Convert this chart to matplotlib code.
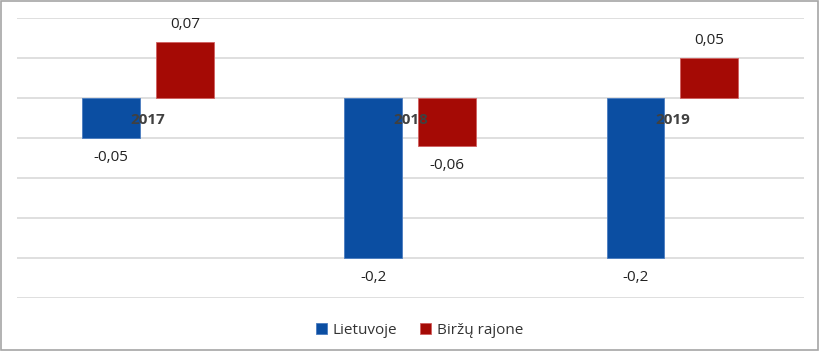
import matplotlib.pyplot as plt
import numpy as np
from matplotlib.patches import Rectangle

years = ['2017', '2018', '2019']
lietuvoje = [-0.05, -0.2, -0.2]
birzu = [0.07, -0.06, 0.05]
lbl_lt = ['-0,05', '-0,2', '-0,2']
lbl_bz = ['0,07', '-0,06', '0,05']

plt.rcParams['font.family'] = ['Open Sans', 'DejaVu Sans']

fig = plt.figure(figsize=(8.2, 3.51), dpi=100)
ax = fig.add_axes([0.0207, 0.151, 0.9593, 0.799])

x = np.arange(len(years))
w = 0.221
off = 0.141
b1 = ax.bar(x - off, lietuvoje, width=w, color='#0B4EA2', edgecolor='#4A7CC0',
            linewidth=0.6, label='Lietuvoje', zorder=3)
b2 = ax.bar(x + off, birzu, width=w, color='#A50A05', edgecolor='#D06060',
            linewidth=0.6, label='Biržų rajone', zorder=3)

for bars, labels in ((b1, lbl_lt), (b2, lbl_bz)):
    for b, t in zip(bars, labels):
        h = b.get_height()
        ax.annotate(t, (b.get_x() + b.get_width() / 2, h),
                    xytext=(0, 7 if h > 0 else -9), textcoords='offset points',
                    ha='center', va='bottom' if h > 0 else 'top',
                    fontsize=11, color='#222222')

# category labels sit just under the zero line, on top of the bars
for xi, yr in zip(x, years):
    ax.annotate(yr, (xi, 0), xytext=(0, -11), textcoords='offset points',
                ha='center', va='top', fontsize=11, fontweight='bold',
                color='#404040', zorder=5)

ax.set_xlim(-0.5, 2.5)
ax.set_ylim(-0.25, 0.1)
ax.set_yticks(np.arange(-0.25, 0.101, 0.05))
ax.yaxis.grid(True, color='#D9D9D9', linewidth=1.2, zorder=0)
ax.tick_params(axis='y', left=False, labelleft=False)
ax.set_xticks([])
for s in ax.spines.values():
    s.set_visible(False)

fig.legend(handles=[b1, b2], labels=['Lietuvoje', 'Biržų rajone'],
           loc='center', bbox_to_anchor=(0.512, 0.058), ncol=2, frameon=False,
           fontsize=11, handlelength=0.7, handleheight=0.7, handletextpad=0.4,
           columnspacing=1.5, labelcolor='#333333')

fig.patches.append(Rectangle((0.001, 0.002), 0.997, 0.995, transform=fig.transFigure,
                             fill=False, edgecolor='#A6A6A6', linewidth=1.2))

fig.savefig('out.png', dpi=100)
